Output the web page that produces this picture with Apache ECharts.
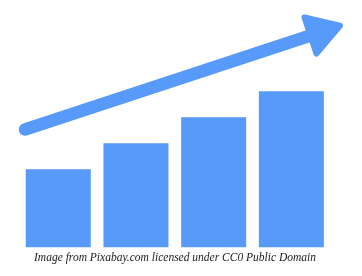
<!DOCTYPE html>
<html>
<head>
<meta charset="utf-8">
<script src="https://cdn.jsdelivr.net/npm/echarts@6/dist/echarts.min.js"></script>
<style>html,body{margin:0;padding:0;background:#fff;}#c{width:362px;height:276px;}</style>
</head>
<body>
<div id="c"></div>
<script>
const categories = ['1', '2', '3', '4'];
const barValues = [3, 4, 5, 6];
const arrowFrom = [0.072, 4.53];
const arrowTo = [4.125, 8.52];
const caption = 'Image from Pixabay.com licensed under CC0 Public Domain';

const color = '#579AF9';
const chart = echarts.init(document.getElementById('c'), null, {renderer: 'canvas'});
chart.setOption({
  animation: false,
  backgroundColor: '#ffffff',
  grid: {left: 19.4, right: 31.8, top: 13.3, bottom: 28.7},
  xAxis: [
    {type: 'category', data: categories, show: false},
    {type: 'value', min: 0, max: 4, show: false}
  ],
  yAxis: {type: 'value', min: 0, max: 9, show: false},
  series: [
    {
      type: 'bar', data: barValues, barWidth: 65,
      itemStyle: {color: color}
    },
    {
      type: 'custom', xAxisIndex: 1, clip: false,
      data: [[arrowFrom[0], arrowFrom[1], arrowTo[0], arrowTo[1]]],
      renderItem: function (params, api) {
        const p0 = api.coord([api.value(0), api.value(1)]);
        const p1 = api.coord([api.value(2), api.value(3)]);
        const dx = p1[0] - p0[0], dy = p1[1] - p0[1];
        const len = Math.sqrt(dx * dx + dy * dy);
        const d = [dx / len, dy / len];
        const n = [-d[1], d[0]];
        const L = 31, H = 19;
        const b = [p1[0] - d[0] * L, p1[1] - d[1] * L];
        return {
          type: 'group',
          children: [
            {type: 'line', shape: {x1: p0[0], y1: p0[1], x2: b[0] + d[0] * 4, y2: b[1] + d[1] * 4},
             style: {stroke: color, lineWidth: 12.5, lineCap: 'round'}},
            {type: 'polygon', shape: {points: [p1, [b[0] + n[0] * H, b[1] + n[1] * H], [b[0] - n[0] * H, b[1] - n[1] * H]]},
             style: {fill: color, stroke: color, lineWidth: 6, lineJoin: 'round'}}
          ]
        };
      }
    }
  ],
  graphic: [{
    type: 'text', x: 175, y: 258,
    style: {text: caption, fill: '#1a1a1a', fontFamily: 'Liberation Serif', fontStyle: 'italic', fontSize: 11.5,
            textAlign: 'center', textVerticalAlign: 'middle'}
  }]
});
</script>
</body>
</html>
